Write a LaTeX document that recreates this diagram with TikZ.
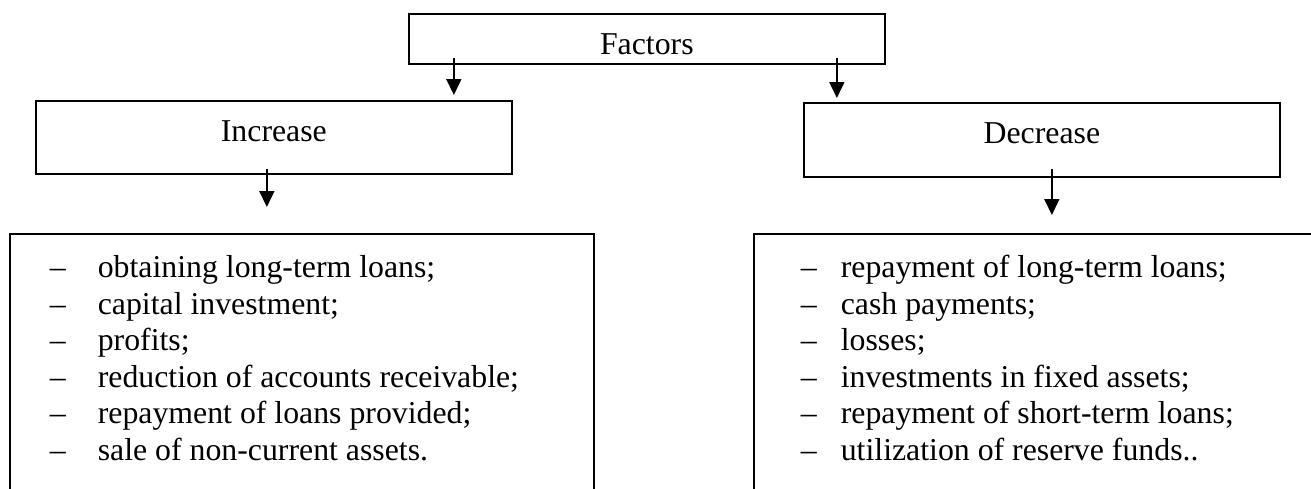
\documentclass[tikz,border=0pt]{standalone}
\usepackage{fontspec}
\setmainfont{Liberation Serif}
\usetikzlibrary{arrows.meta}
\begin{document}
\begin{tikzpicture}[x=0.5pt, y=-0.5pt,
        box/.style={draw, line width=0.85pt, rectangle, inner sep=0pt, anchor=north west,
            minimum width=238pt, text height=20.5pt, font=\fontsize{15.9}{18.25}\selectfont},
        listbox/.style={draw, line width=0.85pt, rectangle, inner ysep=0pt, anchor=north west,
            text height=22pt, text depth=120pt, font=\fontsize{15.9}{18.25}\selectfont},
        arr/.style={line width=0.85pt, -{Triangle[length=8pt, width=7.5pt]}}]
        \useasboundingbox (0,0) rectangle (1311,488);
        \clip (0,0) rectangle (1311,488);

        \node[box, text depth=4.5pt] (fac) at (408,13) {Factors};
        \node[box, text depth=16pt] (inc) at (35,100) {Increase};
        \node[box, text depth=16.5pt] (dec) at (803,102) {Decrease};

        \node[listbox, inner xsep=20pt] (inclist) at (9,233) {\begin{tabular}[t]{@{}p{24pt}@{}p{228pt}@{}}
            \textendash & obtaining long-term loans;\\
            \textendash & capital investment;\\
            \textendash & profits;\\
            \textendash & reduction of accounts receivable;\\
            \textendash & repayment of loans provided;\\
            \textendash & sale of non-current assets.
        \end{tabular}};
        \node[listbox, inner xsep=23.5pt] (declist) at (753,233) {\begin{tabular}[t]{@{}p{20pt}@{}p{225pt}@{}}
            \textendash & repayment of long-term loans;\\
            \textendash & cash payments;\\
            \textendash & losses;\\
            \textendash & investments in fixed assets;\\
            \textendash & repayment of short-term loans;\\
            \textendash & utilization of reserve funds..
        \end{tabular}};

        \coordinate (fl) at ([xshift=-96.5pt, yshift=3.5pt]fac.south);
        \coordinate (fr) at ([xshift=95pt, yshift=3.5pt]fac.south);
        \coordinate (il) at ([xshift=-3.5pt, yshift=3pt]inc.south);
        \coordinate (dl) at ([xshift=5pt, yshift=4.5pt]dec.south);

        \draw[arr, shorten >=2.5pt] (fl) -- (fl |- inc.north);
        \draw[arr, shorten >=2pt] (fr) -- (fr |- dec.north);
        \draw[arr, shorten >=13pt] (il) -- (il |- inclist.north);
        \draw[arr, shorten >=9pt] (dl) -- (dl |- declist.north);
    \end{tikzpicture}
\end{document}
